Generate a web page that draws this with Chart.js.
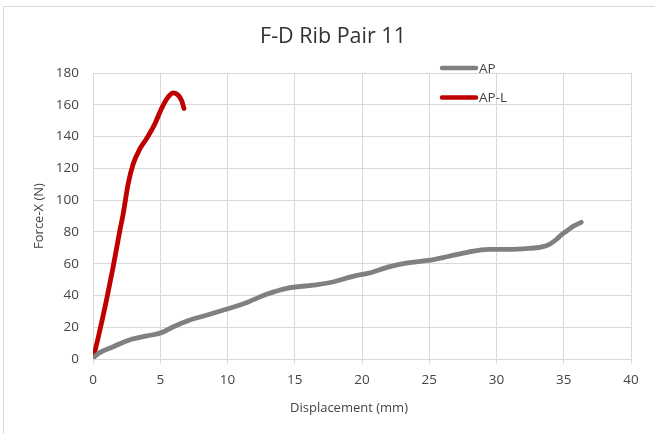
<!DOCTYPE html>
<html>
<head>
<meta charset="utf-8">
<script src="https://cdn.jsdelivr.net/npm/chart.js@4/dist/chart.umd.min.js"></script>
<style>
html,body{margin:0;padding:0;background:#fff;}
#wrap{width:655px;height:434px;position:relative;}
</style>
</head>
<body>
<div id="wrap"><canvas id="c" width="655" height="434"></canvas></div>
<script>
const chartTitle = "F-D Rib Pair 11";
const xAxisTitle = "Displacement (mm)";
const yAxisTitle = "Force-X (N)";
const seriesNames = ["AP", "AP-L"];
const seriesColors = ["#808080", "#c00000"];

const apX = [0.05, 0.5, 1.5, 2.7, 4.0, 5.1, 5.9, 7.2, 8.5, 9.9, 11.4, 12.9, 14.4, 16.4, 17.9, 19.4, 20.5, 22.0, 23.4, 24.9, 26.4, 27.9, 29.4, 30.9, 32.4, 33.3, 33.9, 34.45, 34.8, 35.2, 35.7, 36.3];
const apY = [1, 4, 7.7, 12, 14.5, 16.6, 20, 24.5, 27.7, 31.3, 35.4, 40.7, 44.5, 46.5, 48.6, 52.2, 54, 58, 60.5, 62, 64.5, 67.3, 69, 69, 69.6, 70.4, 72.0, 75.2, 78.0, 80.4, 83.5, 86];

const aplX = [0.03, 0.4, 1.0, 1.5, 2.0, 2.25, 2.62, 3.0, 3.5, 3.99, 4.6, 5.1, 5.6, 5.97, 6.34, 6.6, 6.76];
const aplY = [1, 14, 37, 58, 81, 91.6, 110.5, 123, 132.5, 138.8, 148, 157.7, 165, 167.5, 166, 162.5, 157.7];

const xTicks = [0, 5, 10, 15, 20, 25, 30, 35, 40];
const yTicks = [0, 20, 40, 60, 80, 100, 120, 140, 160, 180];

function pts(xs, ys){ return xs.map((x,i)=>({x:x, y:ys[i]})); }

const FONT = "'Open Sans', 'Liberation Sans', Arial, sans-serif";
const TXT = "#444444";
const GRID = "#d9d9d9";

const frame = {
  id: 'frame',
  beforeDraw(chart){
    const ctx = chart.ctx;
    ctx.save();
    ctx.fillStyle = '#fff';
    ctx.fillRect(0,0,chart.width,chart.height);
    ctx.strokeStyle = GRID;
    ctx.lineWidth = 1;
    ctx.beginPath();
    ctx.moveTo(3.5, chart.height);
    ctx.lineTo(3.5, 6.5);
    ctx.lineTo(chart.width, 6.5);
    ctx.stroke();
    ctx.restore();
  }
};

const textPlugin = {
  id: 'texts',
  afterDatasetsDraw(chart){
    const ctx = chart.ctx;
    ctx.save();
    // legend
    chart.data.datasets.forEach((ds, i) => {
      const y = 68 + 29.5*i;
      ctx.strokeStyle = ds.borderColor;
      ctx.lineWidth = 4.5;
      ctx.lineCap = 'round';
      ctx.beginPath();
      ctx.moveTo(442, y);
      ctx.lineTo(476, y);
      ctx.stroke();
      ctx.fillStyle = TXT;
      ctx.font = "13.5px " + FONT;
      ctx.textBaseline = 'middle';
      ctx.textAlign = 'left';
      ctx.fillText(ds.label, 479, y+1);
    });
    // chart title
    ctx.fillStyle = '#333333';
    ctx.font = "21.5px " + FONT;
    ctx.textAlign = 'center';
    ctx.textBaseline = 'middle';
    ctx.fillText(chartTitle, 333, 37);
    // axis titles
    ctx.fillStyle = TXT;
    ctx.font = "13px " + FONT;
    ctx.fillText(xAxisTitle, 349, 408);
    ctx.translate(39, 216);
    ctx.rotate(-Math.PI/2);
    ctx.fillText(yAxisTitle, 0, 0);
    ctx.restore();
  }
};

new Chart(document.getElementById('c'), {
  type: 'scatter',
  data: {
    datasets: [
      { label: seriesNames[0], data: pts(apX, apY), showLine: true, borderColor: seriesColors[0], backgroundColor: seriesColors[0],
        borderWidth: 4.8, pointRadius: 0, cubicInterpolationMode: 'monotone', borderCapStyle: 'round', borderJoinStyle: 'round' },
      { label: seriesNames[1], data: pts(aplX, aplY), showLine: true, borderColor: seriesColors[1], backgroundColor: seriesColors[1],
        borderWidth: 4.8, pointRadius: 0, cubicInterpolationMode: 'monotone', borderCapStyle: 'round', borderJoinStyle: 'round' }
    ]
  },
  options: {
    responsive: false,
    animation: false,
    devicePixelRatio: 1,
    layout: { padding: { left: 0, right: 24, top: 73, bottom: 0 } },
    plugins: {
      legend: { display: false },
      tooltip: { enabled: false },
      title: { display: false }
    },
    scales: {
      x: {
        type: 'linear', min: 0, max: 40,
        afterBuildTicks(scale){ scale.ticks = xTicks.map(v=>({value:v})); },
        afterFit(scale){ scale.height = 75; },
        grid: { color: GRID, lineWidth: 1, drawTicks: true, tickLength: 5, tickColor: GRID },
        border: { color: GRID, width: 1 },
        ticks: { color: TXT, font: { family: FONT, size: 13.5 }, padding: 8, maxRotation: 0 }
      },
      y: {
        type: 'linear', min: 0, max: 180,
        afterBuildTicks(scale){ scale.ticks = yTicks.map(v=>({value:v})); },
        afterFit(scale){ scale.width = 93; },
        grid: { color: GRID, lineWidth: 1, drawTicks: false },
        border: { color: GRID, width: 1 },
        ticks: { color: TXT, font: { family: FONT, size: 13.5 }, padding: 14 }
      }
    }
  },
  plugins: [frame, textPlugin]
});
</script>
</body>
</html>
